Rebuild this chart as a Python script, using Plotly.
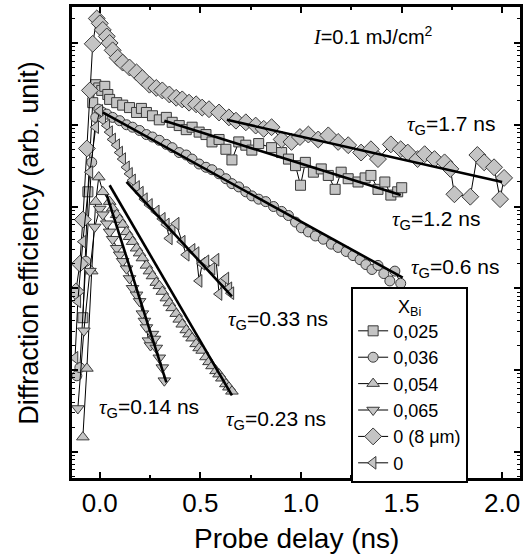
import numpy as np
import plotly.graph_objects as go

# ---------------- data (x: probe delay in ns, y: log10 of diffraction efficiency, arb. unit) ---------
sq_t = [-0.084, -0.059, -0.035, -0.020, -0.005, 0.010, 0.025, 0.040, 0.049, 0.084, 0.114, 0.148, 0.183, 0.207,
        0.232, 0.262, 0.296, 0.331, 0.360, 0.395, 0.430, 0.459, 0.494, 0.528, 0.558, 0.593, 0.627, 0.657, 0.691,
        0.726, 0.756, 0.790, 0.854, 0.904, 0.938, 0.973, 0.998, 1.022, 1.062, 1.101, 1.136, 1.170, 1.200, 1.235,
        1.284, 1.319, 1.348, 1.383, 1.417, 1.447, 1.481, 1.501]
sq_lg = [1.64, 3.18, 4.27, 4.49, 4.45, 4.42, 4.47, 4.37, 4.31, 4.27, 4.24, 4.21, 4.15, 4.20, 4.15, 4.11, 4.06,
         4.09, 4.03, 3.99, 3.94, 3.97, 3.91, 3.88, 3.79, 3.82, 3.70, 3.57, 3.79, 3.75, 3.69, 3.77, 3.72, 3.66,
         3.58, 3.50, 3.26, 3.54, 3.42, 3.46, 3.38, 3.21, 3.42, 3.34, 3.30, 3.35, 3.38, 3.21, 3.30, 3.14, 3.18, 3.23]

ci_t = [-0.114, -0.099, -0.069, -0.040, -0.020, -0.005, 0.015, 0.035, 0.064, 0.099, 0.133, 0.163, 0.198, 0.232,
        0.262, 0.296, 0.331, 0.360, 0.395, 0.430, 0.459, 0.494, 0.528, 0.558, 0.593, 0.627, 0.657, 0.691, 0.726,
        0.756, 0.790, 0.825, 0.864, 0.904, 0.938, 0.973, 1.002, 1.037, 1.072, 1.111, 1.151, 1.185, 1.225, 1.259,
        1.294, 1.323, 1.353, 1.383, 1.412, 1.442, 1.467, 1.496]
ci_lg = [0.93, 1.03, 2.33, 3.54, 4.09, 4.19, 4.15, 4.13, 4.09, 4.05, 4.00, 3.97, 3.93, 3.88, 3.85, 3.81, 3.76,
         3.72, 3.66, 3.63, 3.58, 3.52, 3.48, 3.45, 3.40, 3.34, 3.28, 3.24, 3.18, 3.13, 3.09, 3.06, 3.00, 2.94,
         2.89, 2.81, 2.74, 2.69, 2.64, 2.60, 2.54, 2.50, 2.45, 2.40, 2.35, 2.29, 2.23, 2.28, 2.18, 2.09, 2.21, 2.06]

ut_t = [-0.084, -0.064, -0.040, -0.020, -0.005, 0.015, 0.049, 0.064, 0.084, 0.099, 0.114, 0.133, 0.148, 0.163,
        0.183, 0.198, 0.212, 0.232, 0.247, 0.262, 0.281, 0.296, 0.311, 0.331, 0.346, 0.360, 0.380, 0.395, 0.410,
        0.430, 0.444, 0.459, 0.479, 0.494, 0.509, 0.528, 0.543, 0.558, 0.578, 0.593, 0.607, 0.627, 0.642, 0.657]
ut_lg = [0.18, 1.02, 2.21, 3.06, 3.36, 3.18, 3.06, 2.98, 2.90, 2.84, 2.78, 2.69, 2.63, 2.57, 2.49, 2.43, 2.37,
         2.28, 2.21, 2.15, 2.07, 2.03, 1.96, 1.88, 1.82, 1.76, 1.69, 1.62, 1.56, 1.49, 1.44, 1.39, 1.32, 1.27,
         1.24, 1.16, 1.10, 1.05, 0.99, 0.95, 0.90, 0.83, 0.79, 0.74]

dt_t = [-0.109, -0.079, -0.049, -0.025, 0.0, 0.015, 0.035, 0.049, 0.064, 0.084, 0.099, 0.114, 0.133, 0.148,
        0.163, 0.183, 0.198, 0.212, 0.222, 0.232, 0.242, 0.252, 0.262, 0.272, 0.281, 0.296, 0.311, 0.321]
dt_lg = [0.53, 1.48, 2.21, 2.75, 2.97, 2.90, 2.79, 2.69, 2.60, 2.49, 2.41, 2.33, 2.24, 2.12, 2.00, 1.92, 1.84,
         1.69, 1.60, 1.52, 1.36, 1.30, 1.44, 1.38, 1.27, 1.15, 1.03, 0.87]

di_t = [-0.119, -0.099, -0.084, -0.064, -0.049, -0.035, -0.015, 0.0, 0.015, 0.035, 0.049, 0.064, 0.089, 0.114,
        0.148, 0.183, 0.212, 0.247, 0.281, 0.311, 0.346, 0.380, 0.410, 0.444, 0.479, 0.509, 0.543, 0.593, 0.642,
        0.677, 0.726, 0.775, 0.815, 0.854, 0.904, 0.953, 0.995, 1.037, 1.086, 1.136, 1.185, 1.235, 1.299, 1.348,
        1.383, 1.447, 1.496, 1.531, 1.580, 1.615, 1.664, 1.714, 1.743, 1.763, 1.842, 1.877, 1.911, 1.960, 1.990,
        2.010]
di_lg = [1.96, 2.30, 2.84, 3.71, 4.42, 4.99, 5.30, 5.24, 5.16, 5.08, 5.00, 4.91, 4.82, 4.76, 4.70, 4.64, 4.57,
         4.49, 4.45, 4.42, 4.37, 4.33, 4.31, 4.27, 4.25, 4.21, 4.19, 4.15, 4.09, 4.05, 4.03, 3.99, 3.95, 3.97,
         3.82, 3.79, 3.85, 3.88, 3.82, 3.87, 3.79, 3.75, 3.66, 3.70, 3.58, 3.76, 3.70, 3.66, 3.58, 3.64, 3.58,
         3.54, 3.46, 3.15, 3.12, 3.63, 3.54, 3.48, 3.09, 3.35]

lt_t = [-0.123, -0.109, -0.084, -0.049, -0.020, 0.0, 0.015, 0.035, 0.049, 0.064, 0.084, 0.099, 0.114, 0.133,
        0.148, 0.163, 0.183, 0.202, 0.222, 0.247, 0.281, 0.311, 0.331, 0.346, 0.360, 0.380, 0.410, 0.430, 0.459,
        0.479, 0.494, 0.509, 0.528, 0.558, 0.578, 0.593, 0.612, 0.627, 0.642, 0.652]
lt_lg = [1.15, 1.84, 2.57, 3.42, 3.97, 4.17, 4.06, 3.99, 3.91, 3.82, 3.75, 3.66, 3.58, 3.48, 3.40, 3.32, 3.24,
         3.17, 3.09, 3.02, 2.94, 2.85, 2.78, 2.61, 2.73, 2.79, 2.57, 2.41, 2.47, 2.43, 2.09, 2.30, 2.33, 2.24,
         2.35, 1.93, 2.09, 2.12, 2.00, 1.94]

# exponential fits (straight lines on the log axis): start/end delay and log10 efficiency
fit_di_t, fit_di_lg = [0.632, 2.0], [4.06, 3.30]
fit_sq_t, fit_sq_lg = [0.321, 1.496], [4.05, 3.14]
fit_ci_t, fit_ci_lg = [0.015, 1.506], [4.15, 2.13]
fit_lt_t, fit_lt_lg = [0.133, 0.657], [3.30, 1.90]
fit_ut_t, fit_ut_lg = [0.049, 0.657], [3.26, 0.69]
fit_dt_t, fit_dt_lg = [0.035, 0.331], [3.14, 0.85]

legend_names = ["0,025", "0,036", "0,054", "0,065", "0 (8 μm)", "0"]
tau_labels = ["1.7", "1.2", "0.6", "0.33", "0.14", "0.23"]

FONT = "Liberation Sans, Arial, Helvetica, sans-serif"
FILL = "#c4c4c4"
EDGE = "#3a3a3a"

fig = go.Figure()

series = [
    (sq_t, sq_lg, "square", 10, legend_names[0]),
    (ci_t, ci_lg, "circle", 10, legend_names[1]),
    (ut_t, ut_lg, "triangle-up", 11, legend_names[2]),
    (dt_t, dt_lg, "triangle-down", 11, legend_names[3]),
    (di_t, di_lg, "diamond", 13, legend_names[4]),
    (lt_t, lt_lg, "triangle-left", 11, legend_names[5]),
]
for t, lg, sym, sz, name in series:
    fig.add_trace(go.Scatter(
        x=t, y=10 ** np.array(lg), mode="lines+markers", name=name,
        line=dict(color="black", width=1),
        marker=dict(symbol=sym, size=sz, color=FILL, line=dict(color=EDGE, width=1)),
    ))

for t, lg in [(fit_di_t, fit_di_lg), (fit_sq_t, fit_sq_lg), (fit_ci_t, fit_ci_lg),
              (fit_lt_t, fit_lt_lg), (fit_ut_t, fit_ut_lg), (fit_dt_t, fit_dt_lg)]:
    fig.add_trace(go.Scatter(x=t, y=10 ** np.array(lg), mode="lines", showlegend=False,
                             line=dict(color="black", width=2.6), hoverinfo="skip"))

# plot area in px: left 72, right 523, top 4, bottom 478
L, R, T, B = 72, 523, 4, 478
def px(xp):
    return (xp - L) / (R - L)
def py(yp):
    return (B - yp) / (B - T)

tau = '<span style="font-family:Liberation Serif"><i>τ</i></span><sub>G</sub>'
ann_pos = [(407, 121), (392, 216), (411, 265), (227, 317), (97, 406), (225, 418)]
annotations = []
for lab, (ax_, ay_) in zip(tau_labels, ann_pos):
    annotations.append(dict(text=f"{tau}={lab} ns", x=px(ax_), y=py(ay_ + 2), xref="paper", yref="paper",
                            xanchor="left", yanchor="middle", showarrow=False,
                            font=dict(family=FONT, size=21, color="black")))
annotations.append(dict(text='<span style="font-family:Liberation Serif"><i>I</i></span>=0.1 mJ/cm<sup>2</sup>',
                        x=px(313), y=py(33), xref="paper", yref="paper", xanchor="left", yanchor="middle",
                        showarrow=False, font=dict(family=FONT, size=20, color="black")))
annotations.append(dict(text="Diffraction efficiency (arb. unit)", x=px(28), y=py(241), xref="paper",
                        yref="paper", xanchor="center", yanchor="middle", textangle=-90, showarrow=False,
                        font=dict(family=FONT, size=27, color="black")))
annotations.append(dict(text="Probe delay (ns)", x=px(298), y=py(539), xref="paper", yref="paper",
                        xanchor="center", yanchor="middle", showarrow=False,
                        font=dict(family=FONT, size=28, color="black")))

fig.update_layout(
    width=527, height=560,
    margin=dict(l=L, r=527 - R, t=T, b=560 - B),
    paper_bgcolor="white", plot_bgcolor="white",
    font=dict(family=FONT, color="black"),
    showlegend=True,
    legend=dict(
        x=px(353), y=py(286), xanchor="left", yanchor="top",
        bgcolor="white", bordercolor="black", borderwidth=2,
        font=dict(family=FONT, size=18, color="black"),
        title=dict(text="X<sub>Bi</sub>", side="top center", font=dict(family=FONT, size=18)),
        tracegroupgap=0,
    ),
    annotations=annotations,
)

fig.update_xaxes(
    range=[-0.138, 2.089], tickvals=[0, 0.5, 1.0, 1.5, 2.0], ticktext=["0.0", "0.5", "1.0", "1.5", "2.0"],
    ticks="inside", ticklen=6, tickwidth=2, tickcolor="black",
    minor=dict(ticks="inside", ticklen=3, tickwidth=2, tickcolor="black", tickvals=[0.25, 0.75, 1.25, 1.75]),
    showline=True, linewidth=2.5, linecolor="black", mirror="allticks",
    showgrid=False, zeroline=False, tickfont=dict(family=FONT, size=26, color="black"),
)
fig.update_yaxes(
    type="log", range=[-0.32, 5.44], dtick=1, showticklabels=False,
    ticks="inside", ticklen=6, tickwidth=2, tickcolor="black",
    minor=dict(ticks="inside", ticklen=3, tickwidth=1, tickcolor="black", dtick="D1", showgrid=False),
    showline=True, linewidth=2.5, linecolor="black", mirror="allticks",
    showgrid=False, zeroline=False,
)

fig.write_html("out.html")
